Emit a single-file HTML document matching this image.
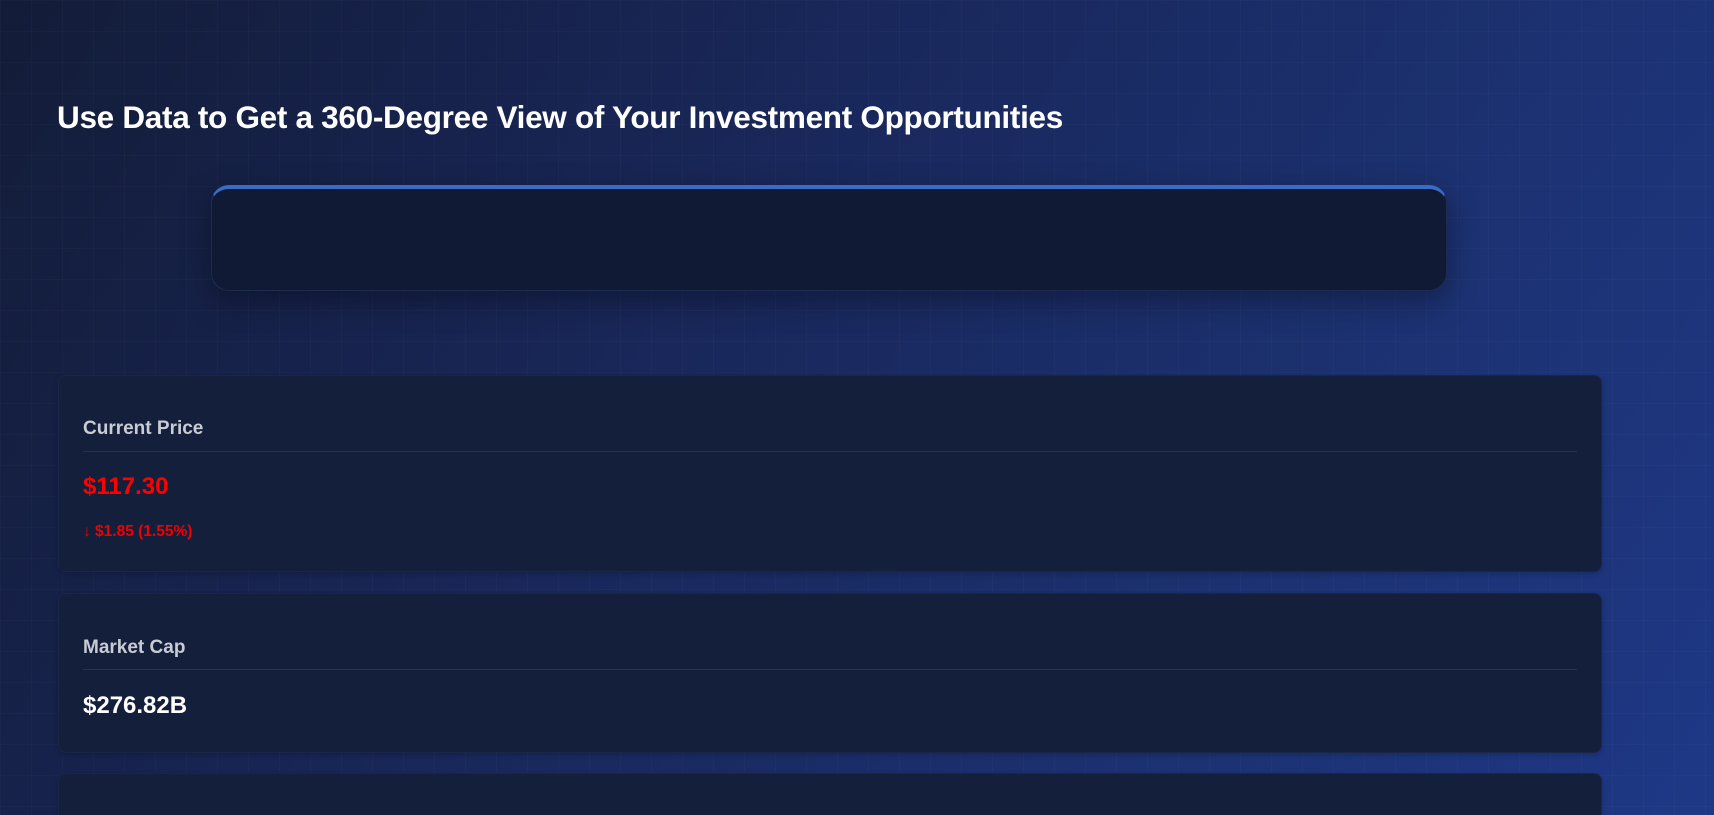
<!DOCTYPE html>
<html><head><meta charset="utf-8"><style>
*{margin:0;padding:0;box-sizing:border-box}
html,body{width:1714px;height:815px;overflow:hidden}
body{font-family:"Liberation Sans",sans-serif;position:relative;
background:
linear-gradient(rgba(255,255,255,0.02) 1px,transparent 1px) 0 0/31px 31px,
linear-gradient(90deg,rgba(255,255,255,0.02) 1px,transparent 1px) 0 0/31px 31px,
linear-gradient(120deg,#131c38 0%,#19275a 40%,#1c3273 75%,#1f3886 100%);}
h1{position:absolute;left:57px;top:99px;font-size:31.5px;font-weight:bold;color:#fff;white-space:nowrap;letter-spacing:-0.3px}
.top{position:absolute;left:211px;top:185px;width:1236px;height:106px;background:#111a34;border-radius:18px;border-top:4px solid #3a6cc6;box-shadow:0 10px 30px rgba(0,0,0,0.35);border-left:1px solid #1e2c52;border-right:1px solid #1e2c52;border-bottom:1px solid #1e2c52}
.card{position:absolute;left:58px;width:1544px;background:#141f3c;border-radius:8px;border:1px solid #1a2648;box-shadow:0 2px 6px rgba(0,0,0,0.2)}
.lbl{position:absolute;left:24px;font-size:19px;font-weight:bold;color:#c9ccd4}
.div{position:absolute;left:24px;right:24px;height:1px;background:#26324f}
.val{position:absolute;left:24px;font-size:24px;font-weight:bold}
.dlt{position:absolute;left:24px;font-size:15.5px;font-weight:bold;color:#f00000}
</style></head><body>
<h1>Use Data to Get a 360-Degree View of Your Investment Opportunities</h1>
<div class="top"></div>
<div class="card" style="top:375px;height:197px">
 <div class="lbl" style="top:42px">Current Price</div>
 <div class="div" style="top:75px"></div>
 <div class="val" style="top:97px;color:#ff0000">$117.30</div>
 <div class="dlt" style="top:147px">↓ $1.85 (1.55%)</div>
</div>
<div class="card" style="top:593px;height:160px">
 <div class="lbl" style="top:43px">Market Cap</div>
 <div class="div" style="top:75px"></div>
 <div class="val" style="top:98px;color:#fff">$276.82B</div>
</div>
<div class="card" style="top:773px;height:80px"></div>
</body></html>
